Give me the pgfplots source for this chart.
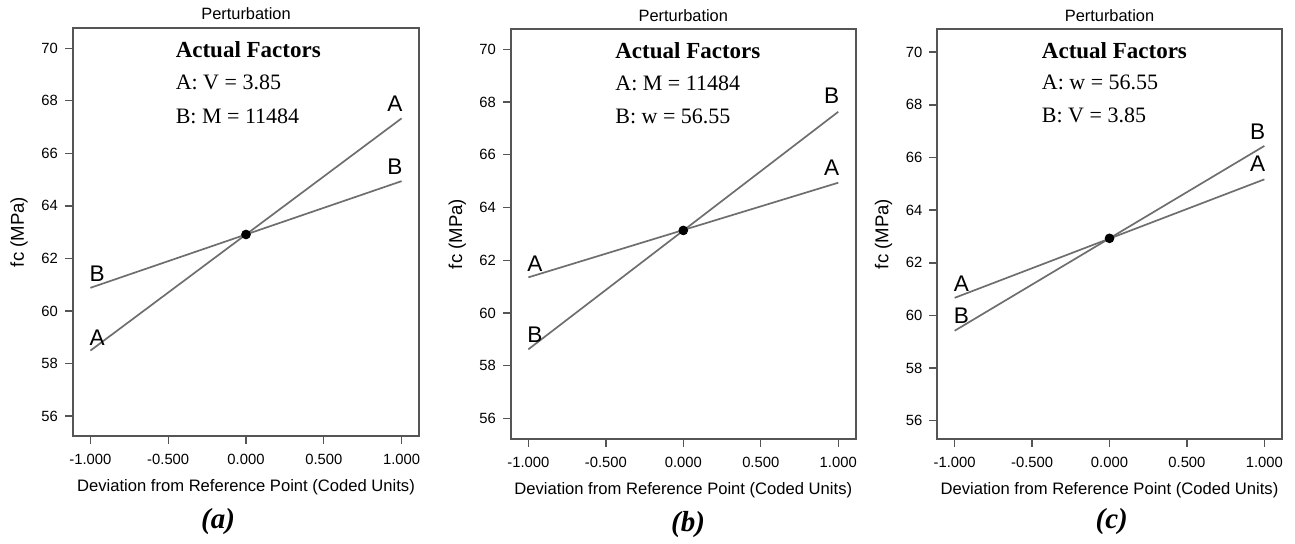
\documentclass[border=0pt]{standalone}
\usepackage{fontspec}
\setmainfont{Liberation Sans}
\newfontfamily\tnr{Liberation Serif}
\usepackage{pgfplots}
\pgfplotsset{compat=1.18}

\definecolor{lgray}{RGB}{110,110,110}
\definecolor{fgray}{RGB}{85,85,85}

\pgfplotsset{
  every axis title/.style={at={(0.5,1)}, anchor=base, yshift=4pt, font=\fontsize{8.2}{9}\selectfont},
  pert/.style={
    scale only axis,
    anchor=south west,
    axis line style={fgray, line width=0.9pt},
    xmin=-1.112, xmax=1.112,
    xtick={-1,-0.5,0,0.5,1},
    ytick={56,58,...,70},
    tick align=outside,
    xtick pos=bottom, ytick pos=left,
    major tick length=4pt,
    tick style={fgray, line width=0.7pt},
    /pgf/number format/assume math mode=true,
    x tick label style={/pgf/number format/fixed, /pgf/number format/fixed zerofill,
      /pgf/number format/precision=3, font=\fontsize{7.4}{8}\selectfont, yshift=-1.5pt},
    y tick label style={font=\fontsize{7.4}{8}\selectfont},
    title={Perturbation},
    xlabel={Deviation from Reference Point (Coded Units)},
    xlabel style={at={(axis description cs:0.5,-0.126)}, anchor=center, font=\fontsize{8.3}{9}\selectfont},
    ylabel={fc (MPa)},
    ylabel style={at={(axis description cs:-0.156,0.5)}, anchor=center, font=\fontsize{9.3}{10}\selectfont},
    clip=false,
  },
  fline/.style={lgray, line width=0.85pt},
  cdot/.style={only marks, mark=*, mark size=2.2pt, black},
}

\newcommand{\flab}[1]{\fontsize{11.3}{12}\selectfont #1}

\begin{document}
\begin{tikzpicture}
\useasboundingbox (0,0) rectangle (647.5pt,272pt);

% (a)
\begin{axis}[pert, at={(36.5pt,54pt)}, width=173pt, height=204pt,
  ymin=55.24, ymax=70.77]
\addplot[fline] coordinates {(-1,58.49) (1,67.33)};
\addplot[fline] coordinates {(-1,60.88) (1,64.94)};
\addplot[cdot] coordinates {(0,62.91)};
\node[anchor=base, inner sep=0] at (axis cs:-0.957,58.70) {\flab{A}};
\node[anchor=base, inner sep=0] at (axis cs:-0.957,61.11) {\flab{B}};
\node[anchor=base, inner sep=0] at (axis cs:0.957,67.58) {\flab{A}};
\node[anchor=base, inner sep=0] at (axis cs:0.957,65.21) {\flab{B}};
\node[anchor=base west, inner sep=0] at (axis cs:-0.454,69.63) {\tnr\bfseries\fontsize{11.5}{12}\selectfont Actual Factors};
\node[anchor=base west, inner sep=0] at (axis cs:-0.454,68.41) {\tnr\fontsize{11}{12}\selectfont A: V = 3.85};
\node[anchor=base west, inner sep=0] at (axis cs:-0.454,67.15) {\tnr\fontsize{11}{12}\selectfont B: M = 11484};
\end{axis}

% (b)
\begin{axis}[pert, at={(255.5pt,52.65pt)}, width=172.3pt, height=204.7pt,
  ymin=55.23, ymax=70.76]
\addplot[fline] coordinates {(-1,61.35) (1,64.94)};
\addplot[fline] coordinates {(-1,58.62) (1,67.63)};
\addplot[cdot] coordinates {(0,63.13)};
\node[anchor=base, inner sep=0] at (axis cs:-0.957,61.56) {\flab{A}};
\node[anchor=base, inner sep=0] at (axis cs:-0.957,58.87) {\flab{B}};
\node[anchor=base, inner sep=0] at (axis cs:0.957,65.23) {\flab{A}};
\node[anchor=base, inner sep=0] at (axis cs:0.957,67.95) {\flab{B}};
\node[anchor=base west, inner sep=0] at (axis cs:-0.441,69.66) {\tnr\bfseries\fontsize{11.5}{12}\selectfont Actual Factors};
\node[anchor=base west, inner sep=0] at (axis cs:-0.441,68.45) {\tnr\fontsize{11}{12}\selectfont A: M = 11484};
\node[anchor=base west, inner sep=0] at (axis cs:-0.441,67.19) {\tnr\fontsize{11}{12}\selectfont B: w = 56.55};
\end{axis}

% (c)
\begin{axis}[pert, at={(468.65pt,52.65pt)}, width=172.2pt, height=204.7pt,
  ymin=55.32, ymax=70.87]
\addplot[fline] coordinates {(-1,60.67) (1,65.17)};
\addplot[fline] coordinates {(-1,59.42) (1,66.44)};
\addplot[cdot] coordinates {(0,62.93)};
\node[anchor=base, inner sep=0] at (axis cs:-0.957,60.90) {\flab{A}};
\node[anchor=base, inner sep=0] at (axis cs:-0.957,59.70) {\flab{B}};
\node[anchor=base, inner sep=0] at (axis cs:0.957,65.46) {\flab{A}};
\node[anchor=base, inner sep=0] at (axis cs:0.957,66.67) {\flab{B}};
\node[anchor=base west, inner sep=0] at (axis cs:-0.439,69.77) {\tnr\bfseries\fontsize{11.5}{12}\selectfont Actual Factors};
\node[anchor=base west, inner sep=0] at (axis cs:-0.439,68.57) {\tnr\fontsize{11}{12}\selectfont A: w = 56.55};
\node[anchor=base west, inner sep=0] at (axis cs:-0.439,67.33) {\tnr\fontsize{11}{12}\selectfont B: V = 3.85};
\end{axis}

\node at (109pt,11.15pt) {\tnr\bfseries\itshape\fontsize{14.5}{15}\selectfont (a)};
\node at (344pt,9.5pt) {\tnr\bfseries\itshape\fontsize{14.5}{15}\selectfont (b)};
\node at (555.85pt,11.15pt) {\tnr\bfseries\itshape\fontsize{14.5}{15}\selectfont (c)};
\end{tikzpicture}
\end{document}
